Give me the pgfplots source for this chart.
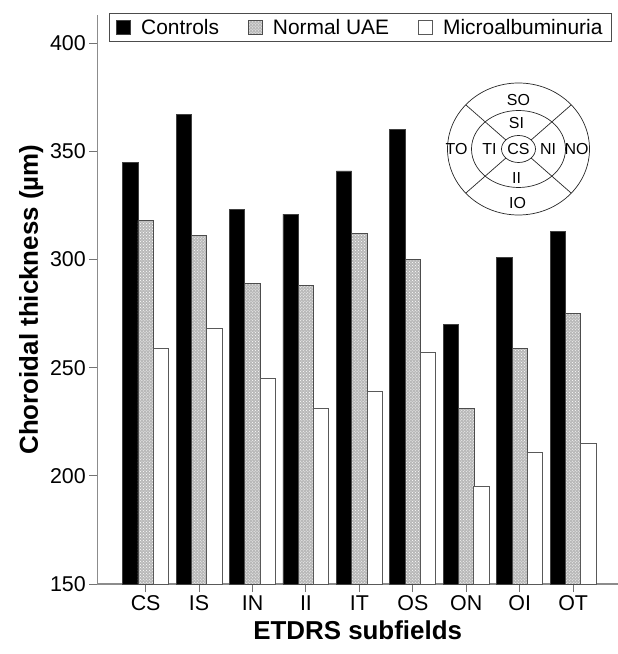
\documentclass[border=0pt]{standalone}
\usepackage{fontspec}
\setmainfont{Liberation Sans}
\usepackage{pgfplots}
\pgfplotsset{compat=1.18}
\usetikzlibrary{patterns}
\begin{document}
\begin{tikzpicture}
\begin{axis}[
  scale only axis, width=520.7bp, height=568.8bp,
  xmin=-0.905, xmax=8.84, ymin=150, ymax=413,
  axis lines*=left,
  axis line style={draw=black!45, line width=1.2bp, -},
  ytick={150,200,...,400},
  xtick={0,...,8}, xticklabels={CS,IS,IN,II,IT,OS,ON,OI,OT},
  tick align=outside, major tick length=8bp,
  tick style={draw=black!55, line width=1bp},
  ticklabel style={font=\fontsize{21.5}{25}\selectfont},
  /pgf/number format/assume math mode=true,
  xlabel={ETDRS subfields}, ylabel={Choroidal thickness (µm)},
  label style={font=\bfseries\fontsize{26}{30}\selectfont},
  xlabel style={yshift=-3bp},
  legend columns=3,
  legend style={at={(0.0225,1)}, anchor=north west, yshift=2.5bp,
    draw=black!70, line width=0.8bp,
    font=\fontsize{21}{25}\selectfont,
    inner xsep=7bp, inner ysep=4bp,
    /tikz/every odd column/.append style={column sep=8bp},
    /tikz/every even column/.append style={column sep=27bp}},
  legend cell align=left,
  legend image code/.code={\draw[#1] (0bp,-7bp) rectangle (14bp,7bp);},
]
\addplot[ybar, bar width=0.287, bar shift=-0.287, fill=black, draw=black!75, line width=0.8bp]
  coordinates {(0,345) (1,367) (2,323) (3,321) (4,341) (5,360) (6,270) (7,301) (8,313)};
\addlegendentry{Controls}
\addplot[ybar, bar width=0.287, bar shift=0, fill=black!28, draw=black!70, line width=0.8bp,
  postaction={pattern=crosshatch dots, pattern color=white}]
  coordinates {(0,318) (1,311) (2,289) (3,288) (4,312) (5,300) (6,231) (7,259) (8,275)};
\addlegendentry{Normal UAE}
\addplot[ybar, bar width=0.287, bar shift=0.287, fill=white, draw=black!65, line width=1bp]
  coordinates {(0,259) (1,268) (2,245) (3,231) (4,239) (5,257) (6,195) (7,211) (8,215)};
\addlegendentry{Microalbuminuria}
\end{axis}
% ETDRS grid schematic (decorative)
\begin{scope}[shift={(421.2bp,435bp)}, line width=0.7bp, draw=black!85]
  \draw (0,0) ellipse [x radius=71bp, y radius=66bp];
  \draw (0,0) ellipse [x radius=47bp, y radius=38.5bp];
  \draw (0,0) ellipse [x radius=17bp, y radius=13.5bp];
  \foreach \a in {42,138,222,318} {
    \draw ({17bp*cos(\a)},{13.5bp*sin(\a)}) -- ({71bp*cos(\a)},{66bp*sin(\a)});
  }
  \begin{scope}[every node/.style={font=\fontsize{16}{19}\selectfont, inner sep=0pt}]
    \node at (0,0) {CS};
    \node at (-2bp,26bp) {SI};
    \node at (0,48.5bp) {SO};
    \node at (-2bp,-29bp) {II};
    \node at (-1bp,-54bp) {IO};
    \node at (-29bp,0) {TI};
    \node at (-62bp,0) {TO};
    \node at (29.5bp,0) {NI};
    \node at (58bp,0) {NO};
  \end{scope}
\end{scope}
\pgfresetboundingbox
\path (-97.3bp,-70bp) rectangle (520.7bp,584bp);
\end{tikzpicture}
\end{document}
